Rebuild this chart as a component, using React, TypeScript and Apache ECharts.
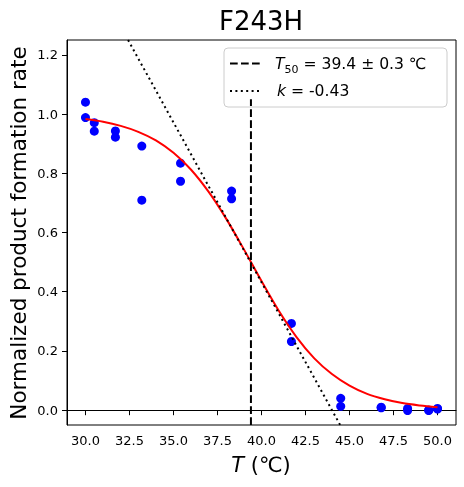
import React, { useEffect, useRef } from "react";
import * as echarts from "echarts";

const titleText = "F243H";
const xAxisLabel = "{i|T}{n| (℃)}";
const yAxisLabel = "Normalized product formation rate";
const xTicks = [30, 32.5, 35, 37.5, 40, 42.5, 45, 47.5, 50];
const yTicks = [0, 0.2, 0.4, 0.6, 0.8, 1.0, 1.2];

const measuredT = [30.0, 30.0, 30.5, 30.5, 31.7, 31.7, 33.2, 33.2, 35.4, 35.4, 38.3, 38.3, 41.7, 41.7, 44.5, 44.5, 46.8, 46.8, 48.3, 48.3, 49.5, 49.5, 50.0, 50.0];
const measuredRate = [1.04, 0.988, 0.971, 0.942, 0.943, 0.922, 0.892, 0.709, 0.834, 0.773, 0.74, 0.714, 0.293, 0.232, 0.04, 0.013, 0.008, 0.01, 0.006, -0.001, -0.001, 0.001, 0.004, 0.006];

const fitT = [30, 31, 32, 33, 34, 35, 36, 37, 38, 39, 40, 41, 42, 43, 44, 45, 46, 47, 48, 49, 50];
const fitRate = [0.983, 0.974, 0.96, 0.94, 0.911, 0.869, 0.812, 0.737, 0.646, 0.543, 0.436, 0.334, 0.246, 0.175, 0.122, 0.083, 0.055, 0.037, 0.024, 0.016, 0.01];

const tangentT = [32.42, 44.47];
const tangentRate = [1.25, -0.05];

const t50LineT = [39.4, 39.4];
const t50LineRate = [-0.05, 1.05];

const legendLabels = ["{i|T}{s|50}{n| = 39.4 ± 0.3 ℃}", "{i|k}{n| = -0.43}"];

const FONT = "DejaVu Sans";

export default function App() {
  const ref = useRef<HTMLDivElement>(null);
  useEffect(() => {
    if (!ref.current) return;
    const chart = echarts.init(ref.current, null, { renderer: "svg" });
    const richLegend = {
      i: { fontFamily: FONT, fontSize: 15.6, fontStyle: "italic", lineHeight: 22, color: "#000" },
      n: { fontFamily: FONT, fontSize: 15.6, lineHeight: 22, color: "#000" },
      s: { fontFamily: FONT, fontSize: 11, lineHeight: 12, verticalAlign: "bottom", color: "#000" },
    };
    chart.setOption({
      animation: false,
      grid: {
        left: 67,
        right: 8,
        top: 40,
        bottom: 62,
        show: true,
        borderColor: "#000",
        borderWidth: 1,
        backgroundColor: "transparent",
      },
      xAxis: {
        type: "value",
        min: 28.95,
        max: 51.05,
        axisLine: { show: true, lineStyle: { color: "#000", width: 1 } },
        axisTick: { show: true, length: 5, customValues: xTicks, lineStyle: { color: "#000" } },
        axisLabel: {
          customValues: xTicks,
          formatter: (v: number) => v.toFixed(1),
          color: "#000",
          fontSize: 13,
          fontFamily: FONT,
          margin: 9,
        },
        splitLine: { show: false },
      },
      yAxis: {
        type: "value",
        min: -0.05,
        max: 1.25,
        axisLine: { show: true, lineStyle: { color: "#000", width: 1 } },
        axisTick: { show: true, length: 5, customValues: yTicks, lineStyle: { color: "#000" } },
        axisLabel: {
          customValues: yTicks,
          formatter: (v: number) => v.toFixed(1),
          color: "#000",
          fontSize: 13,
          fontFamily: FONT,
          margin: 9,
        },
        splitLine: { show: false },
      },
      series: [
        {
          type: "scatter",
          data: measuredT.map((t, i) => [t, measuredRate[i]]),
          symbol: "circle",
          symbolSize: 9,
          itemStyle: { color: "#0000ff", opacity: 1 },
          z: 1,
        },
        {
          type: "line",
          data: fitT.map((t, i) => [t, fitRate[i]]),
          smooth: 0.3,
          showSymbol: false,
          symbol: "none",
          lineStyle: { color: "#ff0000", width: 2 },
          z: 3,
        },
        {
          type: "line",
          data: t50LineT.map((t, i) => [t, t50LineRate[i]]),
          showSymbol: false,
          symbol: "none",
          lineStyle: { color: "#000", width: 2, type: [7.7, 3.3] },
          z: 3,
        },
        {
          type: "line",
          data: tangentT.map((t, i) => [t, tangentRate[i]]),
          showSymbol: false,
          symbol: "none",
          lineStyle: { color: "#000", width: 2, type: [2, 3.4] },
          z: 3,
        },
      ],
      graphic: [
        {
          type: "text",
          x: 261,
          y: 20.5,
          style: { text: titleText, fontFamily: FONT, fontSize: 26, fill: "#000", align: "center", verticalAlign: "middle" },
        },
        {
          type: "text",
          x: 261,
          y: 465,
          style: {
            text: xAxisLabel,
            align: "center",
            verticalAlign: "middle",
            rich: {
              i: { fontFamily: FONT, fontSize: 21, fontStyle: "italic", color: "#000" },
              n: { fontFamily: FONT, fontSize: 21, color: "#000" },
            },
          },
        },
        {
          type: "text",
          x: 18,
          y: 233,
          rotation: Math.PI / 2,
          style: { text: yAxisLabel, fontFamily: FONT, fontSize: 21.5, fill: "#000", align: "center", verticalAlign: "middle" },
        },
        {
          type: "group",
          z: 100,
          children: [
            {
              type: "rect",
              shape: { x: 224, y: 48, width: 223, height: 59, r: 4 },
              style: { fill: "rgba(255,255,255,0.8)", stroke: "#cccccc", lineWidth: 1 },
            },
            {
              type: "line",
              shape: { x1: 230, y1: 63.5, x2: 262, y2: 63.5 },
              style: { stroke: "#000", lineWidth: 2, lineDash: [7.7, 3.3] },
            },
            {
              type: "line",
              shape: { x1: 230, y1: 91, x2: 262, y2: 91 },
              style: { stroke: "#000", lineWidth: 2, lineDash: [2, 3.4] },
            },
            {
              type: "text",
              x: 275,
              y: 63.5,
              style: { text: legendLabels[0], rich: richLegend, align: "left", verticalAlign: "middle" },
            },
            {
              type: "text",
              x: 277,
              y: 91,
              style: { text: legendLabels[1], rich: richLegend, align: "left", verticalAlign: "middle" },
            },
          ],
        },
      ],
    });
    return () => chart.dispose();
  }, []);
  return <div ref={ref} style={{ position: "fixed", left: 0, top: 0, width: 464, height: 487 }} />;
}
